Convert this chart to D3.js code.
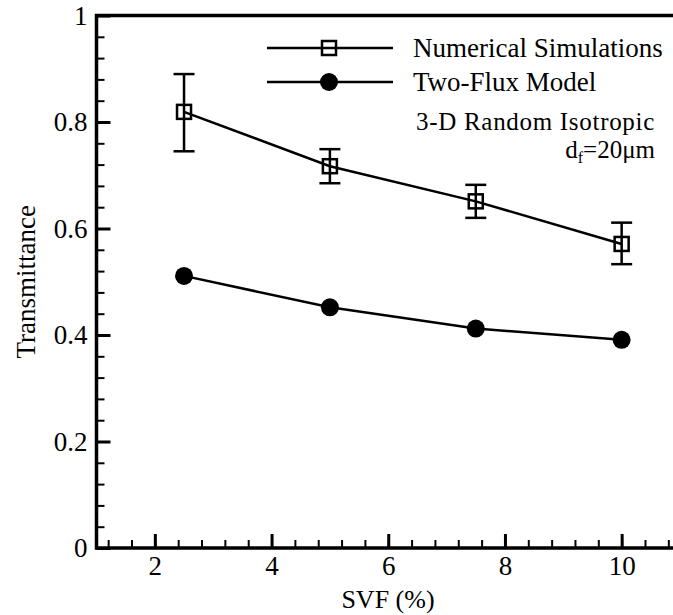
<!DOCTYPE html>
<head>
  <meta charset="utf-8">
  <script src="https://d3js.org/d3.v7.min.js"></script>
  <style>
    body { margin:0; background:#fff; }
    svg, svg text { font-family: "Times New Roman", "Liberation Serif", "DejaVu Serif", serif !important; fill:#000; }
  </style>
</head>
<body>
<script>
  // chart values
  const svf = [2.5, 5, 7.5, 10];
  const numerical = [0.819, 0.717, 0.651, 0.571];
  const numLow = [0.745, 0.685, 0.620, 0.533];
  const numHigh = [0.890, 0.749, 0.682, 0.611];
  const twoFlux = [0.511, 0.452, 0.412, 0.391];
  const xTicks = [2, 4, 6, 8, 10];
  const yTicks = [0, 0.2, 0.4, 0.6, 0.8, 1];
  const seriesNames = ['Numerical Simulations', 'Two-Flux Model'];

  const width = 673, height = 615;
  const x0 = 96.5, x1 = 680, y0 = 548, y1 = 15.5;
  const serif = '"Times New Roman", "Liberation Serif", serif';

  const svg = d3.select('body').append('svg')
    .attr('width', width)
    .attr('height', height)
    .attr('font-family', serif);

  const x = d3.scaleLinear().domain([1, 11]).range([x0, x1]);
  const y = d3.scaleLinear().domain([0, 1]).range([y0, y1]);

  // minor ticks
  svg.append('g')
    .attr('transform', `translate(0,${y0})`)
    .call(d3.axisBottom(x).tickValues(d3.range(1.2, 11, 0.4)).tickSize(-8).tickFormat(''))
    .call(g => g.select('.domain').remove())
    .call(g => g.selectAll('line').attr('stroke-width', 2));
  svg.append('g')
    .attr('transform', `translate(${x0},0)`)
    .call(d3.axisLeft(y).tickValues(d3.range(0.04, 1, 0.04)).tickSize(-8).tickFormat(''))
    .call(g => g.select('.domain').remove())
    .call(g => g.selectAll('line').attr('stroke-width', 2));

  // major ticks
  svg.append('g')
    .attr('transform', `translate(0,${y0})`)
    .call(d3.axisBottom(x).tickValues(xTicks).tickSize(-14).tickPadding(8).tickFormat(d3.format('d')))
    .attr('font-family', serif)
    .call(g => g.select('.domain').remove())
    .call(g => g.selectAll('line').attr('stroke-width', 3))
    .call(g => g.selectAll('text').attr('font-size', 27));
  svg.append('g')
    .attr('transform', `translate(${x0},0)`)
    .call(d3.axisLeft(y).tickValues(yTicks).tickSize(-14).tickPadding(9).tickFormat(d => d3.format('')(d)))
    .attr('font-family', serif)
    .call(g => g.select('.domain').remove())
    .call(g => g.selectAll('line').attr('stroke-width', 3))
    .call(g => g.selectAll('text').attr('font-size', 27));

  // frame
  svg.append('rect')
    .attr('x', x0).attr('y', y1)
    .attr('width', x1 - x0).attr('height', y0 - y1)
    .attr('fill', 'none').attr('stroke', '#000').attr('stroke-width', 3.5);

  const line = d3.line().x(d => x(d[0])).y(d => y(d[1]));

  // two-flux model
  const tf = svf.map((s, i) => [s, twoFlux[i]]);
  svg.append('path').attr('d', line(tf))
    .attr('fill', 'none').attr('stroke', '#000').attr('stroke-width', 2.5);
  svg.selectAll('.tf').data(tf).enter().append('circle')
    .attr('class', 'tf')
    .attr('cx', d => x(d[0])).attr('cy', d => y(d[1])).attr('r', 9)
    .attr('fill', '#000');

  // numerical simulations
  const ns = svf.map((s, i) => [s, numerical[i]]);
  svg.append('path').attr('d', line(ns))
    .attr('fill', 'none').attr('stroke', '#000').attr('stroke-width', 2.5);

  const eb = svg.selectAll('.eb').data(svf).enter().append('g').attr('class', 'eb')
    .attr('stroke', '#000').attr('stroke-width', 2.5);
  eb.append('line')
    .attr('x1', d => x(d)).attr('x2', d => x(d))
    .attr('y1', (d, i) => y(numLow[i])).attr('y2', (d, i) => y(numHigh[i]));
  eb.append('line')
    .attr('x1', d => x(d) - 10.5).attr('x2', d => x(d) + 10.5)
    .attr('y1', (d, i) => y(numHigh[i])).attr('y2', (d, i) => y(numHigh[i]));
  eb.append('line')
    .attr('x1', d => x(d) - 10.5).attr('x2', d => x(d) + 10.5)
    .attr('y1', (d, i) => y(numLow[i])).attr('y2', (d, i) => y(numLow[i]));

  svg.selectAll('.ns').data(ns).enter().append('rect')
    .attr('class', 'ns')
    .attr('x', d => x(d[0]) - 7).attr('y', d => y(d[1]) - 7)
    .attr('width', 14).attr('height', 14)
    .attr('fill', 'none').attr('stroke', '#000').attr('stroke-width', 2.5);

  // legend
  const leg = svg.append('g');
  [48, 82].forEach((ly, i) => {
    leg.append('line').attr('x1', 267).attr('x2', 393).attr('y1', ly).attr('y2', ly)
      .attr('stroke', '#000').attr('stroke-width', 2.5);
    if (i === 0) {
      leg.append('rect').attr('x', 322).attr('y', ly - 7).attr('width', 14).attr('height', 14)
        .attr('fill', 'none').attr('stroke', '#000').attr('stroke-width', 2.5);
    } else {
      leg.append('circle').attr('cx', 329).attr('cy', ly).attr('r', 9).attr('fill', '#000');
    }
    leg.append('text').attr('x', 413).attr('y', ly + 9)
      .attr('font-size', 27).text(seriesNames[i]);
  });

  svg.append('text').attr('x', 655).attr('y', 130).attr('text-anchor', 'end')
    .attr('font-size', 25).attr('letter-spacing', 0.7).text('3-D Random Isotropic');
  const df = svg.append('text').attr('x', 655).attr('y', 158).attr('text-anchor', 'end')
    .attr('font-size', 25);
  df.append('tspan').text('d');
  df.append('tspan').attr('font-size', 16).attr('dy', 5).text('f');
  df.append('tspan').attr('dy', -5).text('=20μm');

  // axis titles
  svg.append('text').attr('x', 388).attr('y', 608)
    .attr('text-anchor', 'middle').attr('font-size', 26).text('SVF (%)');
  svg.append('text')
    .attr('transform', `translate(35,${(y0 + y1) / 2}) rotate(-90)`)
    .attr('text-anchor', 'middle').attr('font-size', 27).text('Transmittance');
</script>
</body>
